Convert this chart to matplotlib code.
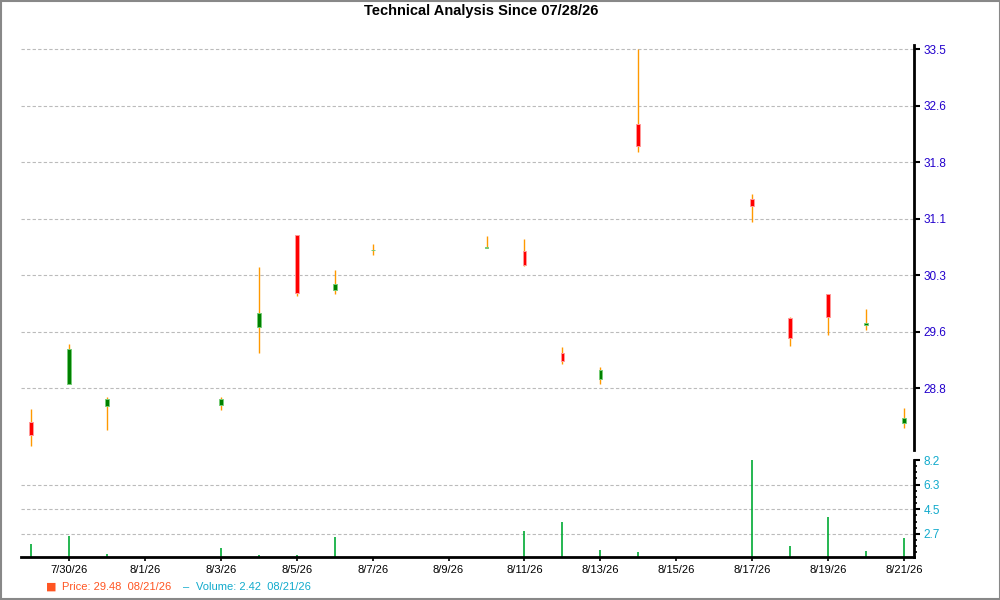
import matplotlib
matplotlib.use('Agg')
import matplotlib.pyplot as plt
import matplotlib.dates as mdates
from matplotlib.ticker import FixedLocator, FuncFormatter
from matplotlib.patches import Rectangle
import numpy as np
import pandas as pd

plt.rcParams['font.family'] = ['Liberation Sans', 'DejaVu Sans']

# daily OHLC + volume
dates = ['2026-07-29', '2026-07-30', '2026-07-31', '2026-08-03', '2026-08-04',
         '2026-08-05', '2026-08-06', '2026-08-07', '2026-08-10', '2026-08-11',
         '2026-08-12', '2026-08-13', '2026-08-14', '2026-08-17', '2026-08-18',
         '2026-08-19', '2026-08-20', '2026-08-21']
opens = [28.33, 28.86, 28.55, 28.56, 29.65, 30.92, 30.16, 30.72, 30.74, 30.70,
         29.29, 28.93, 32.47, 31.42, 29.77, 30.10, 29.67, 28.31]
highs = [28.51, 29.41, 28.67, 28.67, 30.48, 30.93, 30.44, 30.80, 30.91, 30.87,
         29.37, 29.09, 33.50, 31.49, 29.78, 30.11, 29.90, 28.52]
lows = [28.00, 28.85, 28.22, 28.50, 29.28, 30.08, 30.10, 30.64, 30.74, 30.49,
        29.13, 28.86, 32.08, 31.11, 29.38, 29.54, 29.60, 28.25]
closes = [28.15, 29.34, 28.65, 28.65, 29.84, 30.12, 30.24, 30.72, 30.76, 30.51,
          29.17, 29.05, 32.16, 31.32, 29.49, 29.79, 29.70, 28.38]
volumes = [1.94, 2.54, 1.22, 1.67, 1.15, 1.15, 2.46, 0.9, 0.9, 2.91,
           3.58, 1.50, 1.35, 8.19, 1.80, 3.95, 1.42, 2.42]

price_labels = ['28.8', '29.6', '30.3', '31.1', '31.8', '32.6', '33.5']
vol_labels = ['2.7', '4.5', '6.3', '8.2']

title = 'Technical Analysis Since 07/28/26'
legend_price = 'Price: 29.48  08/21/26'
legend_vol = 'Volume: 2.42  08/21/26'

x = mdates.date2num(pd.to_datetime(dates))
o = np.array(opens)
c = np.array(closes)
up = c >= o

fig = plt.figure(figsize=(10, 6), dpi=100)
ax = fig.add_axes([0.0207, 0.25, 0.8933, 0.675])
axv = fig.add_axes([0.0207, 0.0722, 0.8933, 0.1611], sharex=ax)

grid_kw = dict(color='#bbbbbb', linestyle=(0, (3, 2)), linewidth=0.8)

# candles
ax.vlines(x, lows, highs, color='#ff9900', linewidth=1.0, zorder=2)
ax.bar(x[up], (c - o)[up], bottom=o[up], width=0.1, color='#008000',
       edgecolor='#77cc77', linewidth=0.7, zorder=3)
ax.bar(x[~up], (o - c)[~up], bottom=c[~up], width=0.1, color='#ff0000',
       edgecolor='#ff9999', linewidth=0.7, zorder=3)

ax.set_ylim(27.94, 33.56)
pt = np.linspace(28.8, 33.5, 7)
ax.yaxis.tick_right()
ax.set_yticks(pt)
ax.set_yticklabels(price_labels)
for v in pt:
    ax.axhline(v, zorder=0, **grid_kw)
ax.tick_params(axis='y', direction='out', length=4, width=1.5, colors='black',
               labelcolor='#2200cc', labelsize=8.5, pad=3)
ax.tick_params(axis='x', bottom=False, labelbottom=False)
for s in ['left', 'top', 'bottom']:
    ax.spines[s].set_visible(False)
ax.spines['right'].set_linewidth(2)

# volume
axv.vlines(x, 0, volumes, color='#00aa33', linewidth=1.2)
axv.set_ylim(1.0, 8.2)
vt = np.linspace(2.7, 8.2, 4)
axv.yaxis.tick_right()
axv.set_yticks(vt)
axv.set_yticklabels(vol_labels)
step = (vt[1] - vt[0]) / 4
axv.yaxis.set_minor_locator(FixedLocator(np.arange(vt[0] - 3 * step, 8.2, step)))
for v in vt[:-1]:
    axv.axhline(v, zorder=0, **grid_kw)
axv.tick_params(axis='y', which='major', direction='out', length=4, width=1.5,
                labelcolor='#11aacc', labelsize=8.5, pad=3)
axv.tick_params(axis='y', which='minor', direction='out', length=2.5, width=1.2)
for s in ['left', 'top']:
    axv.spines[s].set_visible(False)
axv.spines['right'].set_linewidth(2)
axv.spines['bottom'].set_linewidth(2)

axv.set_xlim(x[0] - 0.27, x[-1] + 0.26)
xt = mdates.date2num(pd.date_range('2026-07-30', '2026-08-21', freq='2D'))
axv.set_xticks(xt)
axv.xaxis.set_major_formatter(FuncFormatter(
    lambda v, p: '{d.month}/{d.day}/{d:%y}'.format(d=mdates.num2date(v))))
axv.tick_params(axis='x', direction='out', length=3, width=1.2, labelsize=8,
                pad=3)

fig.text(0.481, 0.981, title, ha='center', va='center', fontsize=10.5,
         fontweight='bold')
fig.text(0.046, 0.022, '\u25a0', color='#ff5522', fontsize=8, va='center',
         family=['DejaVu Sans'])
fig.text(0.062, 0.022, legend_price, color='#ff5522', fontsize=8, va='center')
fig.text(0.183, 0.022, '\u2013', color='#11aacc', fontsize=8, va='center')
fig.text(0.196, 0.022, legend_vol, color='#11aacc', fontsize=8, va='center')

fig.add_artist(Rectangle((0.0005, 0.002), 0.999, 0.997, transform=fig.transFigure,
                         fill=False, edgecolor='#888888', linewidth=1.5))

fig.savefig('out.png', dpi=100)
